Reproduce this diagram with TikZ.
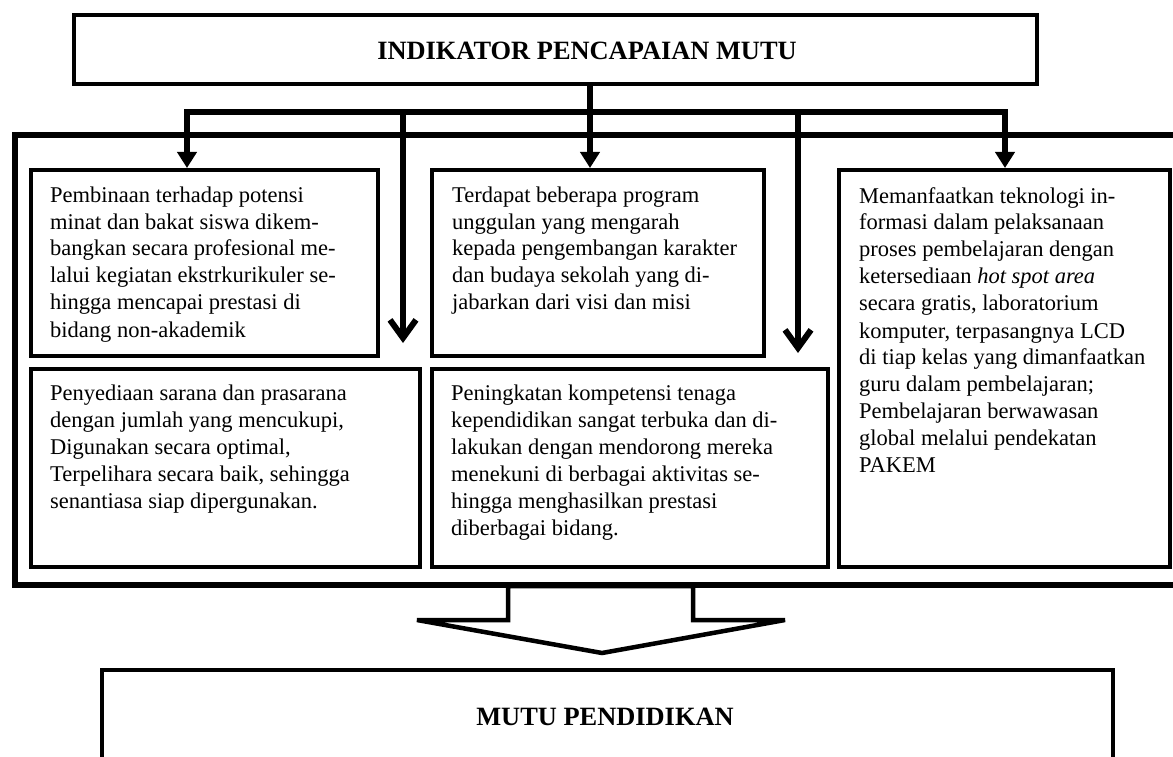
\documentclass[tikz,border=0pt]{standalone}
\usepackage{fontspec}
\setmainfont{Liberation Serif}
\usetikzlibrary{arrows.meta}
\newcommand\boxtext[1]{\parbox[t]{500pt}{\raggedright #1}}
\begin{document}
\begin{tikzpicture}[x=1pt,y=-1pt,
  box/.style={draw, line width=4pt, anchor=north west, inner sep=0pt},
  txt/.style={anchor=base west, inner sep=0pt, font=\fontsize{22.5}{27}\selectfont},
  ttl/.style={anchor=base, inner sep=0pt, font=\fontsize{26.4}{30}\selectfont\bfseries},
  conn/.style={line width=6pt, line join=miter},
  farr/.style={conn, -{Triangle[width=19pt,length=16pt]}},
  varr/.style={conn, -{Straight Barb[width=26pt,length=18pt]}}
]
\useasboundingbox (0,0) rectangle (1173,757);
\clip (0,0) rectangle (1173,757);
% boxes
\node[box] (top) at (72,13) [minimum width=963pt, minimum height=69pt] {};
\node[ttl] (ttltext) at (587,60) {INDIKATOR PENCAPAIAN MUTU};
\node[box, line width=6pt, minimum width=1220pt, minimum height=450pt] (outer) at (12,132) {};
\node[box, minimum width=347pt, minimum height=186pt] (b1) at (29,168) {};
\node[box, minimum width=332pt, minimum height=186pt] (b2) at (430,168) {};
\node[box, minimum width=389pt, minimum height=198pt] (b3) at (29,367) {};
\node[box, minimum width=396pt, minimum height=198pt] (b4) at (430,367) {};
\node[box, minimum width=331pt, minimum height=397pt] (b5) at (837,168) {};
\node[box, line width=3.5pt, minimum width=1011pt, minimum height=200pt] (bot) at (100,668) {};
\node[ttl] (bottext) at (605,725) {MUTU PENDIDIKAN};
% texts
\node[txt] (t1) at ([xshift=21pt,yshift=-34pt]b1.north west) {\boxtext{%
Pembinaan terhadap potensi\\
minat dan bakat siswa dikem-\\
bangkan secara profesional me-\\
lalui kegiatan ekstrkurikuler se-\\
hingga mencapai prestasi di\\
bidang non-akademik}};
\node[txt] (t2) at ([xshift=22pt,yshift=-34pt]b2.north west) {\boxtext{%
Terdapat beberapa program\\
unggulan yang mengarah\\
kepada pengembangan karakter\\
dan budaya sekolah yang di-\\
jabarkan dari visi dan misi}};
\node[txt] (t3) at ([xshift=21pt,yshift=-33pt]b3.north west) {\boxtext{%
Penyediaan sarana dan prasarana\\
dengan jumlah yang mencukupi,\\
Digunakan secara optimal,\\
Terpelihara secara baik, sehingga\\
senantiasa siap dipergunakan.}};
\node[txt] (t4) at ([xshift=21pt,yshift=-33pt]b4.north west) {\boxtext{%
Peningkatan kompetensi tenaga\\
kependidikan sangat terbuka dan di-\\
lakukan dengan mendorong mereka\\
menekuni di berbagai aktivitas se-\\
hingga menghasilkan prestasi\\
diberbagai bidang.}};
\node[txt] (t5) at ([xshift=22pt,yshift=-35pt]b5.north west) {\boxtext{%
Memanfaatkan teknologi in-\\
formasi dalam pelaksanaan\\
proses pembelajaran dengan\\
ketersediaan \textit{hot spot area}\\
secara gratis, laboratorium\\
komputer, terpasangnya LCD\\
di tiap kelas yang dimanfaatkan\\
guru dalam pembelajaran;\\
Pembelajaran berwawasan\\
global melalui pendekatan\\
PAKEM}};
% connectors
\coordinate (j0) at (590,112);
\coordinate (jl) at (187,112);
\coordinate (jr) at (1005,112);
\coordinate (ja) at (403,112);
\coordinate (jb) at (798,112);
\coordinate (ea) at (403,343);
\coordinate (eb) at (798,353);
\draw[conn] (top.south -| j0) -- (j0);
\draw[farr] (j0) -- (jl) -- (jl |- b1.north);
\draw[farr] (j0) -- (jr) -- (jr |- b5.north);
\draw[farr] (j0) -- (j0 |- b2.north);
\draw[varr] (ja) -- (ea);
\draw[varr] (jb) -- (eb);
% block arrow
\draw[line width=4.5pt, line join=miter]
  (508,586) -- (508,620) -- (417,620) -- (602,653) -- (785,620) -- (693,620) -- (693,586) -- cycle;
\end{tikzpicture}
\end{document}
